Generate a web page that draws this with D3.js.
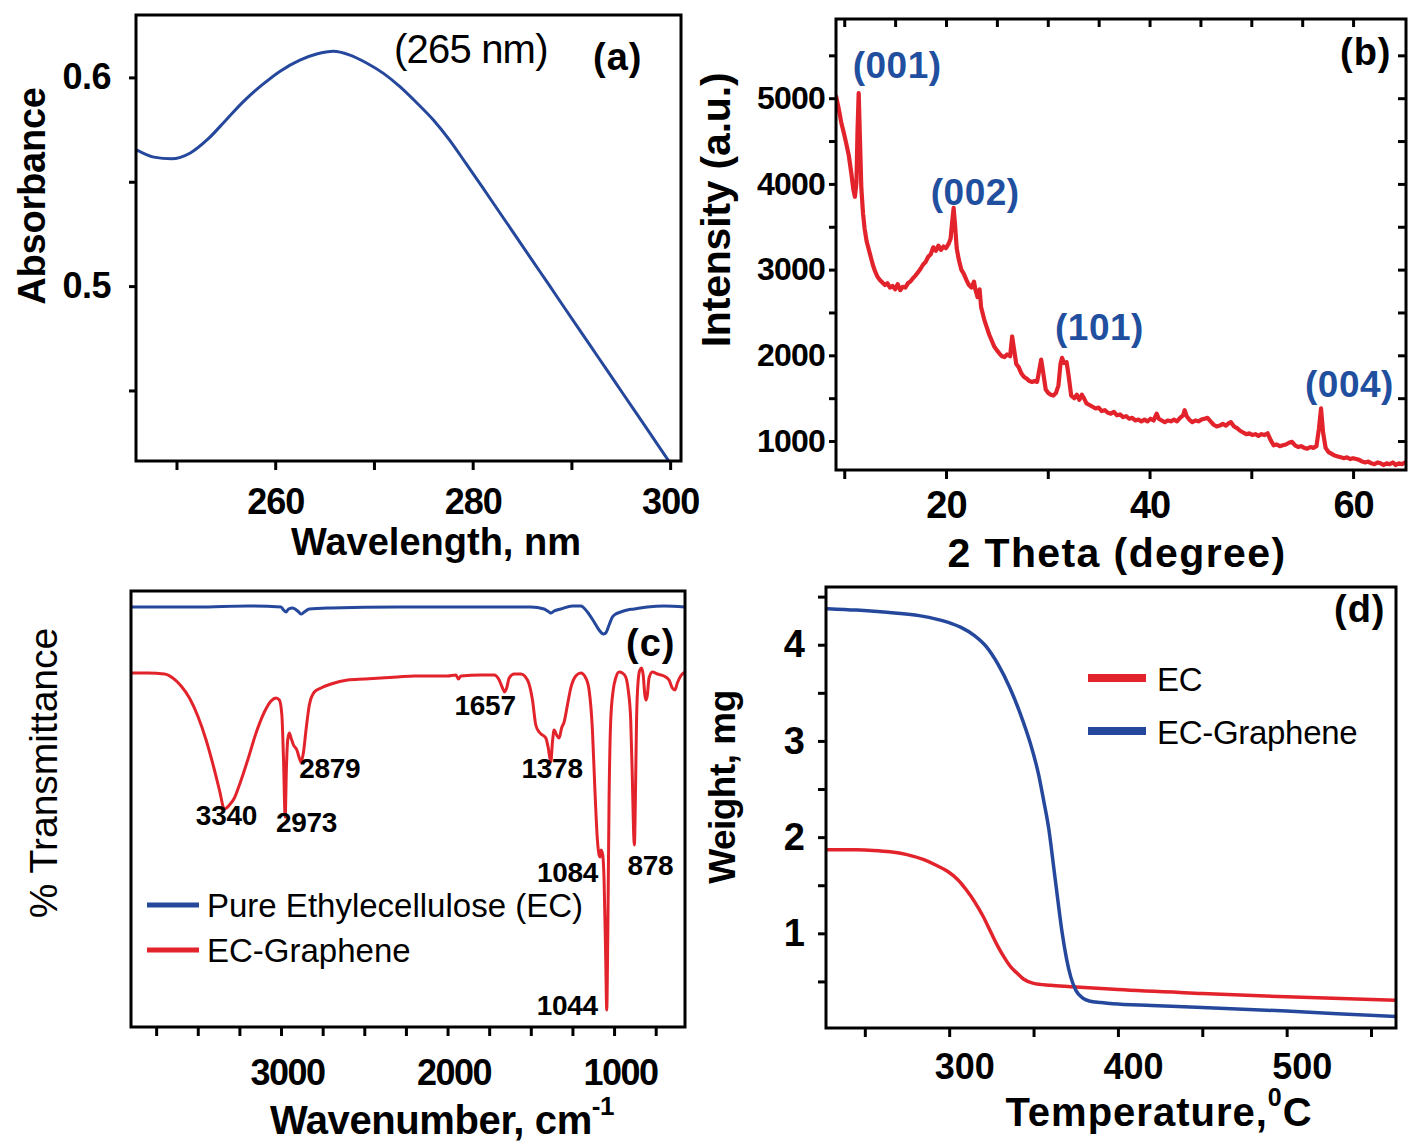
<!DOCTYPE html>
<html>
<head>
<meta charset="utf-8">
<script src="https://cdn.jsdelivr.net/npm/d3@7"></script>
<style>
  body { margin: 0; background: #fff; }
  svg { display: block; }
  text { font-family: "Liberation Sans", Arial, Helvetica, sans-serif; fill: #000; }
</style>
</head>
<body>
<svg id="fig" width="1418" height="1145"></svg>
<script>
// ---- (a) UV-vis absorbance ----
const absWl = [245.9, 247.7, 249.5, 251.4, 253.2, 255.0, 256.8, 258.7, 260.5, 262.5, 264.2, 265.9, 267.5, 269.25, 271.0, 272.6, 274.3,
  276.0, 277.7, 279.3, 281.0, 282.7, 284.4, 286.05, 287.7, 289.4, 291.1, 292.8, 294.5, 296.1, 298.0, 299.8, 301.2];
const absVal = [0.5654, 0.5618, 0.561, 0.5638, 0.5705, 0.5795, 0.5885, 0.5965, 0.603, 0.6083, 0.6112, 0.6125, 0.6108, 0.6069, 0.6018, 0.5957, 0.588,
  0.5797, 0.5697, 0.5589, 0.5473, 0.5355, 0.5237, 0.5122, 0.5008, 0.4889, 0.4771, 0.4653, 0.4535, 0.4424, 0.4292, 0.4166, 0.4069];

// ---- (b) XRD ----
const xrdTheta = [9.2, 9.45, 9.7, 9.95, 10.2, 10.45, 10.7, 10.9, 11.05, 11.2, 11.3, 11.42, 11.55, 11.68, 11.85, 12.0, 12.2, 12.4, 12.6, 12.8,
  13.0, 13.25, 13.5, 13.75, 14.0, 14.25, 14.5, 14.75, 15.0, 15.25, 15.5, 15.75, 16.0, 16.25, 16.5, 16.75, 17.0, 17.25, 17.5, 17.75,
  18.0, 18.25, 18.5, 18.75, 19.0, 19.25, 19.5, 19.75, 20.0, 20.25, 20.45, 20.6, 20.75, 20.9, 21.05, 21.25, 21.5, 21.75, 22.0, 22.25,
  22.5, 22.75, 22.9, 23.1, 23.3, 23.45, 23.75, 24.0, 24.25, 24.5, 24.75, 25.0, 25.25, 25.5, 25.75, 26.0, 26.3, 26.5, 26.65, 26.9,
  27.15, 27.4, 27.65, 27.9, 28.2, 28.45, 28.7, 28.95, 29.2, 29.35, 29.55, 29.8, 30.05, 30.3, 30.55, 30.8, 31.05, 31.25, 31.4, 31.6,
  31.85, 32.05, 32.3, 32.6, 32.85, 33.1, 33.35, 33.55, 33.8, 34.1, 34.4, 34.7, 35.0, 35.3, 35.6, 35.9, 36.2, 36.5, 36.8, 37.1,
  37.4, 37.7, 38.0, 38.3, 38.6, 38.9, 39.2, 39.5, 39.8, 40.1, 40.4, 40.7, 40.9, 41.2, 41.5, 41.8, 42.1, 42.4, 42.7, 43.0,
  43.3, 43.45, 43.65, 43.9, 44.2, 44.5, 44.8, 45.1, 45.4, 45.7, 46.0, 46.3, 46.6, 46.9, 47.2, 47.5, 47.8, 48.0, 48.3, 48.6,
  48.9, 49.2, 49.5, 49.8, 50.1, 50.4, 50.7, 51.0, 51.3, 51.6, 51.9, 52.2, 52.5, 52.8, 53.1, 53.4, 53.7, 54.0, 54.3, 54.6,
  54.9, 55.2, 55.5, 55.8, 56.1, 56.4, 56.65, 56.85, 57.05, 57.3, 57.6, 57.9, 58.2, 58.5, 58.8, 59.1, 59.4, 59.7, 60.0, 60.3,
  60.6, 60.9, 61.2, 61.5, 61.8, 62.1, 62.4, 62.7, 63.0, 63.3, 63.6, 63.9, 64.2, 64.5, 64.8, 65.1];
const xrdInt = [5020, 4880, 4720, 4600, 4470, 4330, 4120, 3930, 3850, 4020, 4600, 5060, 4500, 3950, 3650, 3480, 3330, 3240, 3150, 3060,
  2990, 2920, 2880, 2850, 2820, 2840, 2790, 2810, 2770, 2830, 2760, 2800, 2790, 2840, 2860, 2900, 2930, 2970, 3010, 3060,
  3090, 3150, 3180, 3260, 3220, 3280, 3230, 3270, 3250, 3300, 3360, 3550, 3720, 3500, 3250, 3120, 3000, 2950, 2880, 2820,
  2790, 2860, 2760, 2680, 2770, 2560, 2420, 2330, 2240, 2170, 2100, 2060, 2020, 1990, 1980, 2010, 1990, 2220, 2100, 1900,
  1860, 1790, 1750, 1730, 1700, 1690, 1700, 1690, 1850, 1950, 1800, 1600, 1560, 1540, 1530, 1560, 1650, 1900, 1970, 1910,
  1920, 1760, 1530, 1500, 1540, 1480, 1540, 1500, 1440, 1420, 1400, 1380, 1390, 1350, 1360, 1330, 1320, 1340, 1300, 1310,
  1280, 1290, 1260, 1270, 1240, 1250, 1230, 1250, 1230, 1260, 1240, 1320, 1260, 1240, 1220, 1240, 1230, 1250, 1230, 1270,
  1300, 1360, 1290, 1250, 1220, 1240, 1230, 1250, 1260, 1270, 1230, 1190, 1170, 1180, 1200, 1180, 1210, 1220, 1170, 1150,
  1120, 1100, 1080, 1090, 1070, 1080, 1060, 1080, 1070, 1090, 1010, 950, 960, 940, 950, 960, 980, 990, 950, 930,
  940, 920, 910, 930, 920, 940, 1150, 1380, 1100, 920, 870, 850, 830, 820, 810, 800, 810, 790, 800, 790,
  780, 760, 750, 760, 740, 730, 750, 740, 720, 740, 730, 750, 720, 740, 730, 750];
const xrdPeakLabels = ["(001)", "(002)", "(101)", "(004)"];
const xrdPeakTheta = [11.42, 20.76, 31.4, 56.85];

// ---- (c) FTIR (transmittance, arbitrary units) ----
const irWnEC = [3900, 3500, 3200, 3000, 2985, 2970, 2955, 2930, 2900, 2880, 2860, 2830, 2700, 2300, 1800, 1500, 1420, 1390, 1378, 1360,
  1320, 1250, 1200, 1160, 1120, 1090, 1065, 1050, 1030, 1010, 990, 960, 920, 880, 800, 700, 575];
const irTEC = [420, 420, 421, 420, 417, 415, 418, 419, 416, 413, 415, 418, 419, 420, 420, 420, 418, 415, 414, 416,
  418, 421, 421, 415, 405, 397, 393, 394, 402, 410, 413, 415, 417, 418, 420, 421, 420];
const irWnGr = [3900, 3800, 3700, 3650, 3600, 3550, 3500, 3450, 3400, 3370, 3340, 3310, 3280, 3250, 3200, 3150, 3100, 3060, 3030, 3010,
  2995, 2985, 2975, 2968, 2960, 2950, 2940, 2925, 2905, 2890, 2880, 2865, 2850, 2830, 2800, 2760, 2700, 2600, 2500, 2400,
  2300, 2200, 2100, 2000, 1950, 1935, 1920, 1800, 1720, 1690, 1670, 1657, 1645, 1630, 1600, 1560, 1520, 1490, 1470, 1450,
  1430, 1410, 1395, 1380, 1370, 1360, 1345, 1330, 1315, 1300, 1280, 1260, 1230, 1200, 1170, 1150, 1130, 1115, 1100, 1090,
  1084, 1078, 1068, 1060, 1050, 1044, 1038, 1030, 1020, 1005, 990, 970, 950, 930, 915, 900, 890, 883, 878, 872,
  865, 855, 845, 835, 825, 815, 808, 800, 790, 770, 740, 700, 670, 650, 635, 620, 600, 575];
const irTGr = [354, 354, 353, 349, 341, 329, 311, 287, 257, 237, 218, 222, 229, 242, 267, 294, 315, 326, 329, 327,
  312, 267, 210, 257, 287, 294, 289, 282, 277, 269, 265, 275, 297, 322, 335, 339, 343, 347, 348, 349,
  350, 351, 351, 351, 352, 348, 351, 352, 352, 347, 339, 335, 339, 349, 353, 353, 347, 327, 302, 295,
  292, 289, 279, 265, 285, 297, 292, 289, 299, 305, 322, 339, 351, 354, 349, 337, 297, 237, 187, 172,
  170, 177, 172, 147, 67, 17, 87, 227, 307, 337, 349, 355, 354, 350, 337, 307, 247, 197, 182, 227,
  307, 347, 357, 359, 352, 332, 327, 332, 349, 355, 353, 351, 347, 339, 337, 344, 351, 355];
const irPeakLabels = ["3340", "2973", "2879", "1657", "1378", "1084", "878", "1044"];
const irPeakWn = [3340, 2973, 2879, 1657, 1378, 1084, 878, 1044];
const irSeriesNames = ["Pure Ethylecellulose (EC)", "EC-Graphene"];

// ---- (d) TGA ----
const tgaTempEC = [228, 245, 255, 265, 275, 285, 292, 299, 305, 310, 315, 320, 325, 329, 333, 337, 340, 344, 350, 360, 372, 400, 450, 500, 565];
const tgaWtEC = [1.87, 1.868, 1.862, 1.848, 1.818, 1.765, 1.71, 1.645, 1.56, 1.455, 1.33, 1.18, 1.0, 0.86, 0.74, 0.64, 0.59, 0.525, 0.48, 0.46, 0.446, 0.415, 0.375, 0.34, 0.303];
const tgaTempGr = [228, 245, 261, 283, 299, 307, 315, 322, 329, 336, 342, 348, 353, 356, 359, 362, 364.5, 367, 369.5, 372, 375, 379, 383, 390, 397, 420, 450, 500, 530, 565];
const tgaWtGr = [4.375, 4.36, 4.34, 4.3, 4.235, 4.18, 4.095, 3.98, 3.795, 3.55, 3.29, 2.98, 2.65, 2.38, 2.09, 1.68, 1.33, 1.0, 0.74, 0.55, 0.41, 0.33, 0.297, 0.28, 0.267, 0.25, 0.23, 0.192, 0.165, 0.136];
const tgaSeriesNames = ["EC", "EC-Graphene"];

const RED = "#e3232b";
const BLUE = "#26489c";
const LABEL_BLUE = "#1f4f9e";

const svg = d3.select("#fig");
let clipCount = 0;

// sets up a framed panel with linear scales and a clip region
function panel(box, xDomain, yDomain) {
  const x = d3.scaleLinear().domain(xDomain).range([box.l, box.r]);
  const y = d3.scaleLinear().domain(yDomain).range([box.b, box.t]);
  const g = svg.append("g");
  const id = "clip" + (clipCount++);
  g.append("clipPath").attr("id", id)
    .append("rect")
    .attr("x", box.l).attr("y", box.t)
    .attr("width", box.r - box.l).attr("height", box.b - box.t);
  const plot = g.append("g").attr("clip-path", "url(#" + id + ")");
  return { x, y, g, plot, box };
}

function drawFrame(p) {
  p.g.append("rect")
    .attr("x", p.box.l).attr("y", p.box.t)
    .attr("width", p.box.r - p.box.l).attr("height", p.box.b - p.box.t)
    .attr("fill", "none").attr("stroke", "#000").attr("stroke-width", 3);
}

function addAxis(p, gen, scale, transform, values, fmt, size, pad, fontSize, spacing, dx) {
  const axis = gen(scale).tickValues(values).tickSize(size).tickPadding(pad).tickFormat(fmt);
  const ag = p.g.append("g").attr("transform", transform).call(axis);
  ag.select(".domain").remove();
  ag.selectAll(".tick line").attr("stroke", "#000").attr("stroke-width", 3);
  ag.selectAll(".tick text")
    .attr("fill", "#000")
    .attr("dx", dx || 0)
    .style("font-family", "'Liberation Sans', Arial, sans-serif")
    .style("font-size", fontSize + "px")
    .style("font-weight", "bold")
    .style("letter-spacing", (spacing || 0) + "px");
  return ag;
}

function drawLine(p, xs, ys, color, width, curve) {
  const pts = xs.map((v, i) => [v, ys[i]]);
  const line = d3.line()
    .x(d => p.x(d[0]))
    .y(d => p.y(d[1]))
    .curve(curve || d3.curveLinear);
  p.plot.append("path")
    .datum(pts)
    .attr("d", line)
    .attr("fill", "none")
    .attr("stroke", color)
    .attr("stroke-width", width)
    .attr("stroke-linejoin", "round")
    .attr("stroke-linecap", "round");
}

function label(txt, x, y, opts) {
  const o = opts || {};
  const t = svg.append("text")
    .attr("x", x).attr("y", y)
    .attr("text-anchor", o.anchor || "start")
    .style("font-size", (o.size || 30) + "px")
    .style("font-weight", o.weight || "bold")
    .style("letter-spacing", (o.spacing || 0) + "px")
    .style("fill", o.color || "#000")
    .text(txt);
  if (o.rotate) t.attr("transform", "rotate(-90," + x + "," + y + ")");
  return t;
}

// ================= (a) =================
const pa = panel({ l: 136, t: 15, r: 681, b: 461 }, [245.9, 301.1], [0.4162, 0.6299]);
drawLine(pa, absWl, absVal, BLUE, 3, d3.curveMonotoneX);
addAxis(pa, d3.axisBottom, pa.x, "translate(0,461)", [250, 260, 270, 280, 290, 300],
  d => (d % 20 === 0 ? d : ""), 9, 18, 36, -1);
addAxis(pa, d3.axisLeft, pa.y, "translate(136,0)", [0.45, 0.5, 0.55, 0.6],
  d => (Math.abs(d * 10 - Math.round(d * 10)) < 1e-6 ? d3.format(".1f")(d) : ""), 7, 18, 36, -0.5);
drawFrame(pa);
label("(265 nm)", 394, 63, { size: 40, weight: "normal", spacing: -0.8 });
label("(a)", 593, 70, { size: 38, spacing: 1 });
label("Absorbance", 45, 196, { size: 38, anchor: "middle", rotate: true, spacing: -0.2 });
label("Wavelength, nm", 436, 555, { size: 38, anchor: "middle", spacing: 0 });

// ================= (b) =================
const pb = panel({ l: 836, t: 19, r: 1406, b: 470 }, [9.19, 65.2], [662, 5924]);
drawLine(pb, xrdTheta, xrdInt, RED, 4.2);
addAxis(pb, d3.axisBottom, pb.x, "translate(0,470)", [10, 20, 30, 40, 50, 60],
  d => (d % 20 === 0 ? d : ""), 9, 12, 38, -1);
addAxis(pb, d3.axisTop, pb.x, "translate(0,19)", d3.range(10, 65, 5), () => "", -8, 0, 10, 0);
addAxis(pb, d3.axisLeft, pb.y, "translate(836,0)", d3.range(1000, 5600, 500),
  d => (d % 1000 === 0 ? d : ""), 7, 4, 32, -0.8);
addAxis(pb, d3.axisRight, pb.y, "translate(1406,0)", d3.range(1000, 5600, 500), () => "", -8, 0, 10, 0);
drawFrame(pb);
const xrdLabelDx = [-6, -23, -7, -16];
const xrdLabelY = [78, 205, 340, 397];
xrdPeakLabels.forEach((s, i) => {
  label(s, pb.x(xrdPeakTheta[i]) + xrdLabelDx[i], xrdLabelY[i], { size: 37, color: LABEL_BLUE, spacing: 0.5 });
});
label("(b)", 1340, 65, { size: 38, spacing: 1 });
label("Intensity (a.u.)", 730, 210, { size: 41, anchor: "middle", rotate: true, spacing: -0.2 });
label("2 Theta (degree)", 1117, 567, { size: 41, anchor: "middle", spacing: 1.4 });

// ================= (c) =================
const pc = panel({ l: 131, t: 591, r: 685, b: 1027 }, [3901, 574], [0, 436]);
drawLine(pc, irWnEC, irTEC, BLUE, 3, d3.curveMonotoneX);
drawLine(pc, irWnGr, irTGr, RED, 3, d3.curveMonotoneX);
addAxis(pc, d3.axisBottom, pc.x, "translate(0,1027)", d3.range(750, 3800, 250),
  d => (d % 1000 === 0 ? d : ""), 9, 23, 36, -1.5, 6);
drawFrame(pc);
const irLabelDx = [2, 21, -2, 11, 1, -2, -7, -9];
const irLabelY = [825, 832, 778, 715, 778, 882, 875, 1015];
const irLabelAnchor = ["middle", "middle", "start", "end", "middle", "end", "start", "end"];
irPeakLabels.forEach((s, i) => {
  label(s, pc.x(irPeakWn[i]) + irLabelDx[i], irLabelY[i], { size: 28, anchor: irLabelAnchor[i], spacing: -0.3 });
});
label("(c)", 626, 656, { size: 38, spacing: 1 });
// legend
[BLUE, RED].forEach((c, i) => {
  const ly = 905 + i * 45;
  svg.append("line").attr("x1", 147).attr("x2", 199).attr("y1", ly).attr("y2", ly)
    .attr("stroke", c).attr("stroke-width", 5);
  label(irSeriesNames[i], 207, ly + 12, { size: 33, weight: "normal", spacing: 0 });
});
label("% Transmittance", 57, 773, { size: 39, weight: "normal", anchor: "middle", rotate: true, spacing: 0 });
const wn = label("Wavenumber, cm", 442, 1134, { size: 40, anchor: "middle", spacing: -0.4 });
wn.append("tspan").attr("dy", -19).style("font-size", "26px").text("-1");

// ================= (d) =================
const pd = panel({ l: 826, t: 587, r: 1396, b: 1028 }, [227, 564.8], [0.016, 4.6]);
drawLine(pd, tgaTempEC, tgaWtEC, RED, 3.5, d3.curveMonotoneX);
drawLine(pd, tgaTempGr, tgaWtGr, BLUE, 3.5, d3.curveMonotoneX);
addAxis(pd, d3.axisBottom, pd.x, "translate(0,1028)", d3.range(250, 560, 50),
  d => (d % 100 === 0 ? d : ""), 9, 16, 36, 0, 15);
addAxis(pd, d3.axisLeft, pd.y, "translate(826,0)", d3.range(0.5, 4.6, 0.5),
  d => (Math.abs(d - Math.round(d)) < 1e-6 ? d : ""), 8, 13, 38, 0);
drawFrame(pd);
label("(d)", 1334, 622, { size: 38, spacing: 1 });
[RED, BLUE].forEach((c, i) => {
  const ly = 678 + i * 53;
  svg.append("line").attr("x1", 1088).attr("x2", 1146).attr("y1", ly).attr("y2", ly)
    .attr("stroke", c).attr("stroke-width", 8);
  label(tgaSeriesNames[i], 1157, ly + 13, { size: 33, weight: "normal", spacing: -0.3 });
});
label("Weight, mg", 735, 787, { size: 37, anchor: "middle", rotate: true, spacing: -0.5 });
const tt = label("Temperature,", 1159, 1126, { size: 40, anchor: "middle", spacing: 1 });
tt.append("tspan").attr("dy", -20).style("font-size", "25px").text("0");
tt.append("tspan").attr("dy", 20).style("font-size", "40px").text("C");
</script>
</body>
</html>
